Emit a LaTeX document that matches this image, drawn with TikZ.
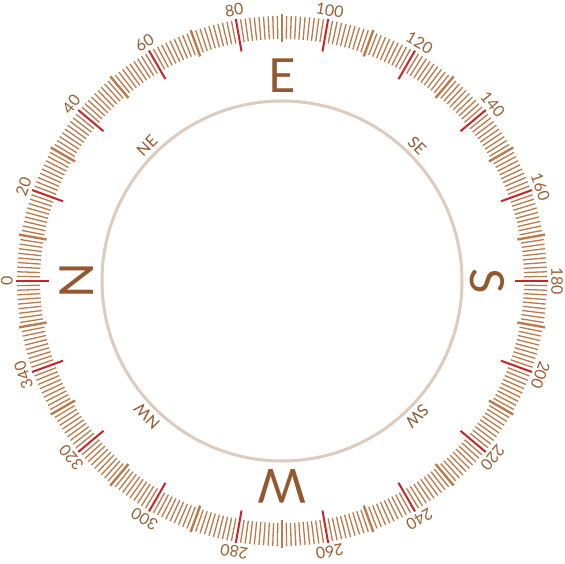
\documentclass[tikz,border=0pt]{standalone}
\usepackage{fontspec}
\setmainfont{Lato}
\definecolor{tickc}{HTML}{B97B4B}
\definecolor{redc}{HTML}{C8242B}
\definecolor{ringc}{HTML}{DDCBBE}
\definecolor{numc}{HTML}{9A6035}
\definecolor{cardc}{HTML}{93582F}
\begin{document}
\begin{tikzpicture}[x=1pt,y=1pt,
  minortick/.style={draw=tickc,line width=1.3pt},
  majortick/.style={draw=tickc,line width=2.4pt},
  redtick/.style={draw=redc,line width=2pt},
  numlabel/.style={text=numc,font=\fontsize{16}{16}\selectfont,inner sep=0pt},
  cardinal/.style={text=cardc,font=\fontsize{47}{47}\selectfont,inner sep=0pt},
  intercard/.style={text=cardc,font=\fontsize{16}{16}\selectfont,inner sep=0pt}]
\useasboundingbox (-282,-283) rectangle (282,281);
\node[circle,draw=ringc,line width=3pt,minimum size=360pt,inner sep=0pt] (inner) at (0,0) {};
\foreach \c in {0,...,359}{
  \pgfmathsetmacro\a{180-\c}
  \pgfmathtruncatemacro\mt{mod(\c,20)}
  \pgfmathtruncatemacro\mz{mod(\c,10)}
  \ifnum\mt=0
    \draw[redtick] (\a:233) -- (\a:266);
  \else\ifnum\mz=0
    \draw[majortick] (\a:239) -- (\a:267);
  \else
    \draw[minortick] (\a:242) -- (\a:265);
  \fi\fi
}
\foreach \c in {0,20,...,340}{
  \node[numlabel,rotate=90-\c] (n\c) at (180-\c:275) {\c};
}
\node[cardinal,rotate=90] (N) at (180:205) {N};
\node[cardinal] (E) at (90:205) {E};
\node[cardinal,rotate=-90] (S) at (0:205) {S};
\node[cardinal,rotate=180] (W) at (-90:205) {W};
\node[intercard,rotate=45] (NE) at (135:191) {NE};
\node[intercard,rotate=-45] (SE) at (45:191) {SE};
\node[intercard,rotate=-135] (SW) at (-45:191) {SW};
\node[intercard,rotate=135] (NW) at (-135:191) {NW};
\end{tikzpicture}
\end{document}
